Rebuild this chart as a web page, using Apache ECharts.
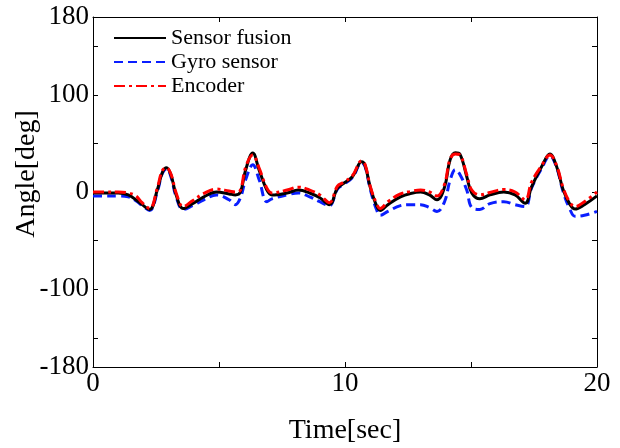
<!DOCTYPE html>
<html>
<head>
<meta charset="utf-8">
<script src="https://cdn.jsdelivr.net/npm/echarts@6/dist/echarts.min.js"></script>
<style>
  html, body { margin: 0; padding: 0; background: #fff; }
  #chart { width: 620px; height: 448px; }
</style>
</head>
<body>
<div id="chart"></div>
<script>
    // time samples [sec]
    var times = [0, 0.5, 1.0, 1.4, 1.7, 1.95, 2.25, 2.55, 2.75, 2.92, 3.1, 3.3, 3.58, 3.95, 4.4, 4.9,
        5.4, 5.65, 5.85, 6.05, 6.34, 6.6, 6.9, 7.1, 7.7, 8.15, 8.6, 9.0, 9.38, 9.7, 9.95, 10.3,
        10.66, 10.8, 11.0, 11.25, 11.4, 11.7, 12.2, 12.6, 13.0, 13.35, 13.65, 13.95, 14.17, 14.38,
        14.56, 14.83, 15.03, 15.35, 15.75, 16.3, 16.75, 17.15, 17.4, 17.8, 18.13, 18.4, 18.66,
        18.93, 19.13, 19.5, 20];

    // angle [deg]
    var sensorFusion = [-1, -1, -1, -3, -8, -13, -18, 2, 20, 25, 17, -3, -17, -12, -5, 0,
        -2, -3, 0, 22, 40, 22, 2, -3, -1, 2, -1, -6, -13, 4, 9, 16,
        31, 27, 5, -14, -19, -13, -5, -1.5, 0, -3, -8, 5, 33, 40.5,
        39, 16, -1, -7, -3, 0, -3, -11.5, 5, 26, 39, 26, 2,
        -13, -17.5, -13, -4];
    var gyroSensor = [-4, -4, -4, -5, -9, -14, -19, 0, 19, 24, 15, -5, -18, -14, -8, -3,
        -8, -13, -6, 12, 28, 12, -10, -7, -3, -1, -5, -10, -14, 3, 8, 15,
        30, 26, 3, -18, -24, -20, -14, -13, -13, -16, -20, -10, 12, 23,
        18, 2, -16, -18, -12, -10, -13, -15, 4, 24, 37, 25, 0,
        -18, -25, -24, -20];
    var encoder = [0, 0, 0, -1, -4, -11, -17, 4, 22, 25, 18, -1, -15, -9, -1.5, 3,
        1, 0, 2, 25, 38, 24, 4, -1, 2, 5, 2, -3, -11, 6, 10, 17,
        32, 28, 6, -12, -17, -10, -2, 0.5, 2, 0, -4, 8, 34, 39,
        38, 18, 2, -3, -0.5, 2.5, 0, -8, 10, 27, 38, 27, 4,
        -11, -15, -10, 0];

    var xLabels = [0, 10, 20];
    var xTicks = [5, 10, 15];
    var yLabels = [-180, -100, 0, 100, 180];
    var yTicks = [-150, -100, -50, 0, 50, 100, 150];

    function pairs(values) {
        return times.map(function (t, i) { return [t, values[i]]; });
    }

    var font = 'Liberation Serif';
    var chart = echarts.init(document.getElementById('chart'));

    var baseX = {
        type: 'value', min: 0, max: 20,
        splitLine: { show: false },
        axisLine: { onZero: false, lineStyle: { color: '#000', width: 1 } },
        axisTick: { inside: true, length: 5, customValues: xTicks, lineStyle: { color: '#000' } }
    };
    var baseY = {
        type: 'value', min: -180, max: 180,
        splitLine: { show: false },
        axisLine: { onZero: false, lineStyle: { color: '#000', width: 1 } },
        axisTick: { inside: true, length: 5, customValues: yTicks, lineStyle: { color: '#000' } }
    };

    var option = {
        animation: false,
        backgroundColor: '#fff',
        grid: { left: 93, right: 23, top: 17, bottom: 81, outerBoundsMode: 'none' },
        legend: {
            orient: 'vertical',
            left: 108, top: 22,
            itemWidth: 52, itemHeight: 14, itemGap: 2,
            itemStyle: { opacity: 0 },
            data: ['Sensor fusion', 'Gyro sensor', 'Encoder'],
            textStyle: { fontFamily: font, fontSize: 22, color: '#000' }
        },
        xAxis: [
            Object.assign({}, baseX, {
                position: 'bottom',
                name: 'Time[sec]', nameLocation: 'middle', nameGap: 50,
                nameMoveOverlap: false,
                nameTextStyle: { fontFamily: font, fontSize: 28, color: '#000' },
                axisLabel: { customValues: xLabels, fontFamily: font, fontSize: 27, color: '#000', margin: 3 }
            }),
            Object.assign({}, baseX, { position: 'top', axisLabel: { show: false } })
        ],
        yAxis: [
            Object.assign({}, baseY, {
                position: 'left',
                name: 'Angle[deg]', nameLocation: 'middle', nameGap: 52,
                nameMoveOverlap: false,
                nameTextStyle: { fontFamily: font, fontSize: 28, color: '#000', padding: [0, 0, 0, 36] },
                axisLabel: { customValues: yLabels, fontFamily: font, fontSize: 27, color: '#000', margin: 4 }
            }),
            Object.assign({}, baseY, { position: 'right', axisLabel: { show: false } })
        ],
        series: [
            {
                name: 'Gyro sensor', type: 'line', smooth: 0.4, symbol: 'none',
                itemStyle: { color: '#0a1eff' },
                lineStyle: { color: '#0a1eff', width: 3, type: [9, 5] },
                data: pairs(gyroSensor)
            },
            {
                name: 'Sensor fusion', type: 'line', smooth: 0.4, symbol: 'none',
                itemStyle: { color: '#000' },
                lineStyle: { color: '#000', width: 3 },
                data: pairs(sensorFusion)
            },
            {
                name: 'Encoder', type: 'line', smooth: 0.4, symbol: 'none',
                itemStyle: { color: '#ff0000' },
                lineStyle: { color: '#ff0000', width: 3, type: [11, 4, 3, 4] },
                data: pairs(encoder)
            }
        ]
    };

    chart.setOption(option);
</script>
</body>
</html>
